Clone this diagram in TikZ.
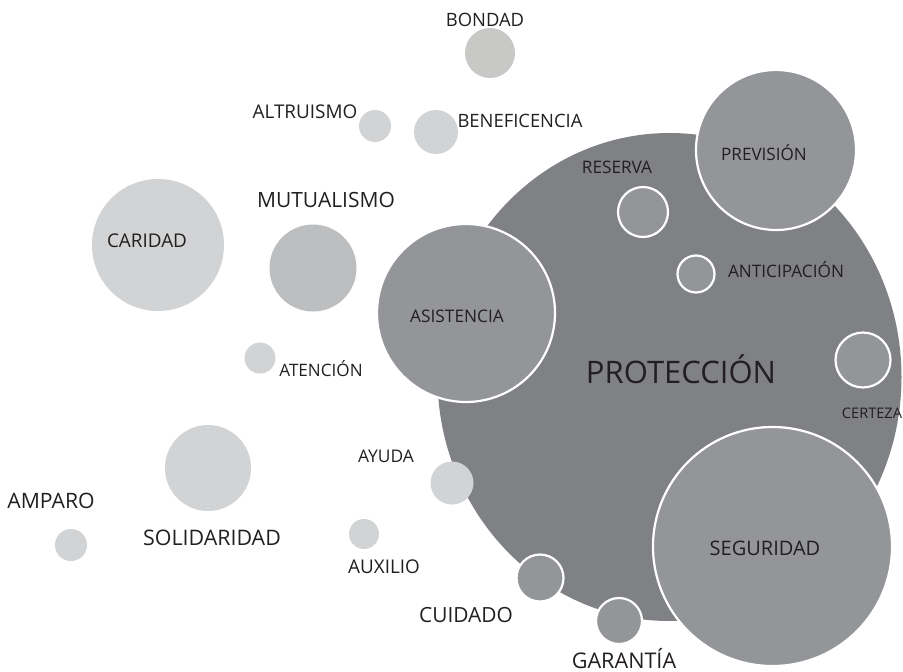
\documentclass[tikz,border=0pt]{standalone}
\usepackage{fontspec}
\setmainfont{Open Sans}
\usetikzlibrary{shapes.geometric}
\definecolor{bigdark}{HTML}{808184}
\definecolor{midgray}{HTML}{939598}
\definecolor{lightgray}{HTML}{D1D3D4}
\definecolor{mutgray}{HTML}{BCBEC0}
\definecolor{bondgray}{HTML}{C8C8C6}
\definecolor{txt}{HTML}{231F20}
\tikzset{
  circ/.style={circle, inner sep=0pt, outer sep=0pt, minimum size=#1},
  lightc/.style={fill=lightgray, draw=none},
  ringc/.style={fill=midgray, draw=white, line width=2.2pt},
  lbl/.style={text=txt, inner sep=0pt, anchor=base, text depth=0pt, font=\fontsize{#1}{#1}\selectfont},
}
\begin{document}
\begin{tikzpicture}[x=1pt,y=-1pt]
\useasboundingbox (0,0) rectangle (903,672);
% big ellipse
\node[ellipse, fill=bigdark, inner sep=0pt, minimum width=464pt, minimum height=488pt] (prot) at (669.5,377) {};
% large inner circles
\node[circ=178pt, ringc] (asis) at (466,313) {};
\node[circ=160pt, ringc] (prev) at (776,150) {};
\node[circ=239pt, ringc] (segu) at (772.5,546.5) {};
% small ringed circles
\node[circ=50pt, ringc] (rese) at (643,212) {};
\node[circ=37pt, ringc] (anti) at (696,274) {};
\node[circ=55pt, ringc] (cert) at (863,360) {};
\node[circ=47pt, ringc] (cuid) at (540,578) {};
\node[circ=46pt, ringc] (gara) at (619,621) {};
% light circles
\node[circ=50pt, fill=bondgray] (bond) at (490,53) {};
\node[circ=32pt, lightc] (altr) at (375,126) {};
\node[circ=44pt, lightc] (bene) at (436,132) {};
\node[circ=132pt, lightc] (cari) at (158,245) {};
\node[circ=87pt, fill=mutgray] (mutu) at (313,268) {};
\node[circ=31pt, lightc] (aten) at (260,358) {};
\node[circ=32pt, lightc] (ampa) at (71,545) {};
\node[circ=86pt, lightc] (soli) at (208,468) {};
\node[circ=43pt, lightc] (ayud) at (452,483) {};
\node[circ=30pt, lightc] (auxi) at (364,534) {};
% labels
\node[lbl=18.4] (lbond) at (485,26) {BONDAD};
\node[lbl=18.9] (laltr) at (305,118) {ALTRUISMO};
\node[lbl=18.4] (lbene) at (520,127) {BENEFICENCIA};
\node[lbl=18.9] (lcari) at (147,247) {CARIDAD};
\node[lbl=21] (lmutu) at (326,207) {MUTUALISMO};
\node[lbl=17.1] (laten) at (321,376) {ATENCIÓN};
\node[lbl=17.3] (lasis) at (457,322) {ASISTENCIA};
\node[lbl=17.2] (lrese) at (617,173) {RESERVA};
\node[lbl=17.1] (lprev) at (764,160) {PREVISIÓN};
\node[lbl=17.2] (lanti) at (786,277) {ANTICIPACIÓN};
\node[lbl=14.6] (lcert) at (872,418) {CERTEZA};
\node[lbl=31] (lprot) at (681,383) {PROTECCIÓN};
\node[lbl=20] (lsegu) at (765,555) {SEGURIDAD};
\node[lbl=21.2] (lampa) at (51,508) {AMPARO};
\node[lbl=21.4] (lsoli) at (212,545) {SOLIDARIDAD};
\node[lbl=17.4] (layud) at (386,462) {AYUDA};
\node[lbl=18.9] (lauxi) at (384,573) {AUXILIO};
\node[lbl=20.9] (lcuid) at (466,622) {CUIDADO};
\node[lbl=21.6] (lgara) at (624,668.5) {GARANTÍA};
\end{tikzpicture}
\end{document}
